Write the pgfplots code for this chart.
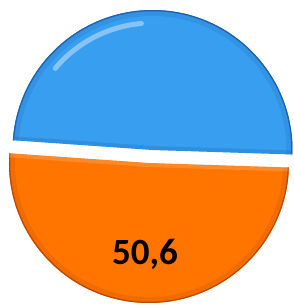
\documentclass[border=0pt]{standalone}
\usepackage{pgfplots}
\pgfplotsset{compat=1.18}
\usepackage{fontspec}
\setmainfont{Carlito}
\definecolor{pieblue}{RGB}{56,158,240}
\definecolor{pieblueD}{RGB}{28,98,175}
\definecolor{pieorange}{RGB}{255,117,0}
\definecolor{pieorangeD}{RGB}{185,75,0}
% slice values (percent)
\def\valOrange{50.6}
\def\valBlue{49.4}
\pgfmathsetmacro{\oStart}{176.0}
\pgfmathsetmacro{\oEnd}{\oStart+3.6*\valOrange}
\pgfmathsetmacro{\bEnd}{\oEnd+3.6*\valBlue}
\begin{document}
\begin{tikzpicture}
\begin{axis}[x=1pt,y=1pt,xmin=0,xmax=294,ymin=0,ymax=306,hide axis,clip=false,scale only axis]
\coordinate (bl) at (axis cs:0,0);
\coordinate (tr) at (axis cs:294,306);
% orange slice, centre (149,143)
\begin{scope}
\clip (axis cs:149,143) -- ++(\oStart:140pt) arc[start angle=\oStart,end angle=\oEnd,radius=140pt] -- cycle;
\fill[pieorange] (axis cs:0,0) rectangle (axis cs:294,306);
\draw[pieorangeD,line width=12pt,opacity=0.2] (axis cs:149,143) circle[radius=140pt];
\draw[pieorangeD,line width=2.5pt] (axis cs:149,143) circle[radius=140pt];
\draw[white,line width=8pt,opacity=0.15] (axis cs:149,143) -- ++(\oStart:140pt) (axis cs:149,143) -- ++(\oEnd:140pt);
\end{scope}
% blue slice, centre (152.5,156)
\begin{scope}
\clip (axis cs:152.5,156) -- ++(\oEnd:140pt) arc[start angle=\oEnd,end angle=\bEnd,radius=140pt] -- cycle;
\fill[pieblue] (axis cs:0,0) rectangle (axis cs:294,306);
\draw[pieblueD,line width=12pt,opacity=0.2] (axis cs:152.5,156) circle[radius=140pt];
\draw[pieblueD,line width=2.5pt] (axis cs:152.5,156) circle[radius=140pt];
\draw[pieblueD,line width=8pt,opacity=0.25] (axis cs:152.5,156) -- ++(\oEnd:140pt) (axis cs:152.5,156) -- ++(\bEnd:140pt);
\draw[white,line width=5pt,opacity=0.4,line cap=round] (axis cs:152.5,156) ++(95:127pt) arc[start angle=95,end angle=140,radius=127pt];
\end{scope}
\node[font=\bfseries\fontsize{37}{42}\selectfont] at (axis cs:145,52) {50,6};
\end{axis}
\pgfresetboundingbox
\path (bl) rectangle (tr);
\end{tikzpicture}
\end{document}
